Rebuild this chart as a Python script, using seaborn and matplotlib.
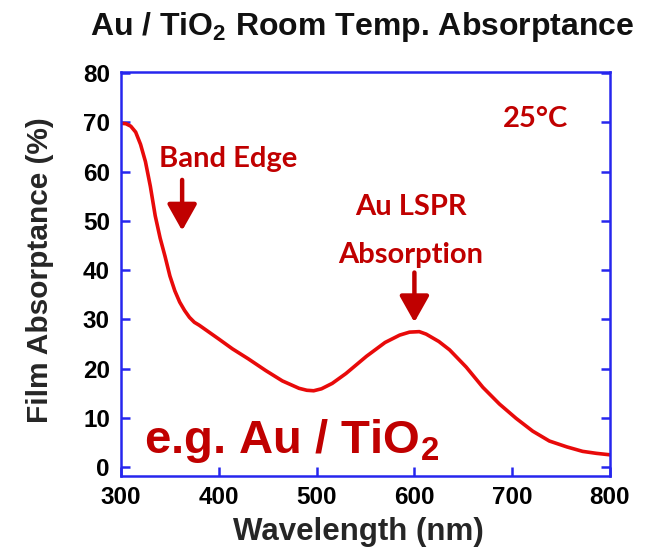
import matplotlib
matplotlib.use("Agg")
import matplotlib.pyplot as plt
import seaborn as sns
import pandas as pd

# ---- data ----
wavelength = [300, 305, 310, 315, 320, 325, 330, 335, 340, 345, 350, 355, 360,
              365, 370, 375, 380, 390, 400, 414, 430, 448, 465, 482, 490, 497,
              505, 516, 530, 551, 570, 585, 595, 605, 612, 625, 636, 653, 670,
              687, 704, 721, 738, 756, 772, 786, 800]
absorptance = [69.8, 69.7, 69.2, 68.0, 65.5, 62.0, 57.0, 51.0, 46.5, 42.8, 38.8,
               35.8, 33.5, 31.8, 30.4, 29.4, 28.8, 27.4, 26.0, 24.0, 22.0, 19.6,
               17.5, 16.0, 15.6, 15.5, 15.9, 17.0, 19.0, 22.5, 25.3, 26.8, 27.4,
               27.5, 27.0, 25.5, 23.8, 20.3, 16.2, 12.8, 9.9, 7.3, 5.3, 4.1, 3.2,
               2.8, 2.5]
x_ticks = [300, 400, 500, 600, 700, 800]
y_ticks = [0, 10, 20, 30, 40, 50, 60, 70, 80]

title_text = "Au / TiO$_\\mathregular{2}$ Room Temp. Absorptance"
x_label = "Wavelength (nm)"
y_label = "Film Absorptance (%)"
note_band = "Band Edge"
note_lspr1 = "Au LSPR"
note_lspr2 = "Absorption"
note_temp = "25\u00b0C"
note_sample = "e.g. Au / TiO$_\\mathregular{2}$"

# ---- style ----
sns.set_style("ticks")
plt.rcParams["font.family"] = ["Liberation Sans", "DejaVu Sans"]

SPINE = "#2626ee"
CURVE = "#e80a0a"
NOTE = "#c00000"

fig = plt.figure(figsize=(6.58, 5.5), dpi=100)
ax = fig.add_axes([121 / 658, 1 - 476 / 550, 489 / 658, 404 / 550])

df = pd.DataFrame({"Wavelength": wavelength, "Absorptance": absorptance})
sns.lineplot(data=df, x="Wavelength", y="Absorptance", ax=ax, color=CURVE,
             linewidth=2.6, sort=False, estimator=None)

ax.set_xlim(300, 800)
ax.set_ylim(-1.8, 80.2)
ax.set_xticks(x_ticks)
ax.set_yticks(y_ticks)
ax.set_xticklabels([str(v) for v in x_ticks])
ax.set_yticklabels([str(v) for v in y_ticks])

for s in ax.spines.values():
    s.set_visible(True)
    s.set_color(SPINE)
    s.set_linewidth(1.8)

ax.tick_params(axis="both", direction="in", length=6.5, width=1.8, color=SPINE,
               labelsize=17.5, labelcolor="black")
ax.tick_params(axis="y", left=True, right=True, pad=8)
ax.tick_params(axis="x", bottom=True, top=False, pad=7)
for lbl in ax.get_xticklabels() + ax.get_yticklabels():
    lbl.set_fontweight("bold")

ax.set_xlabel(x_label, fontsize=22.5, fontweight="bold")
ax.set_ylabel(y_label, fontsize=21.5, fontweight="bold")
ax.xaxis.set_label_coords(0.485, -0.101)
ax.yaxis.set_label_coords(-0.137, 0.51)

fig.text(362 / 658, 1 - 35 / 550, title_text, ha="center", va="baseline",
         fontsize=23, fontweight="bold", color="#111111")

# ---- annotations ----
note_font = ["Lato", "DejaVu Sans"]
ax.text(410, 60.9, note_band, ha="center", va="baseline", fontsize=21,
        fontweight="bold", color=NOTE, family=note_font)
ax.text(597, 51.1, note_lspr1, ha="center", va="baseline", fontsize=21,
        fontweight="bold", color=NOTE, family=note_font)
ax.text(596, 41.4, note_lspr2, ha="center", va="baseline", fontsize=21,
        fontweight="bold", color=NOTE, family=note_font)
ax.text(724, 69.0, note_temp, ha="center", va="baseline", fontsize=21,
        fontweight="bold", color=NOTE, family=note_font)
ax.text(323.6, 2.84, note_sample, ha="left", va="baseline", fontsize=34,
        fontweight="bold", color=NOTE)

arrow_style = dict(arrowstyle="-|>,head_width=0.45,head_length=0.8",
                   color=NOTE, lw=3.2, shrinkA=0, shrinkB=0, mutation_scale=20)
ax.annotate("", xy=(362.5, 48.0), xytext=(362.5, 58.3), arrowprops=arrow_style)
ax.annotate("", xy=(600, 29.4), xytext=(600, 39.5), arrowprops=arrow_style)

fig.savefig("out.png", dpi=100)
